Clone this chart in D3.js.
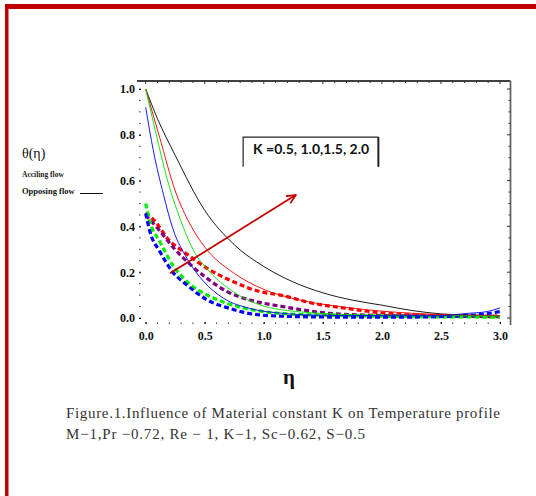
<!DOCTYPE html>
<html>
<head>
<meta charset="utf-8">
<script src="https://cdn.jsdelivr.net/npm/d3@7"></script>
<style>
  body { margin: 0; background: #fff; }
  svg { display: block; }
</style>
</head>
<body>
<svg id="chart" width="536" height="496"></svg>
<script>
// solid lines (assisting flow), K = 0.5, 1.0, 1.5, 2.0
const etaBlack = [0, 0.1, 0.25, 0.5, 0.75, 1, 1.25, 1.5, 1.75, 2, 2.25, 2.5, 2.75, 3];
const solidBlack = [1.0, 0.87, 0.71, 0.47, 0.32, 0.225, 0.157, 0.11, 0.078, 0.056, 0.033, 0.018, 0.012, 0.01];
const etaRed = [0, 0.12, 0.25, 0.375, 0.5, 0.75, 1, 1.25, 1.5, 2, 2.5, 3];
const solidRed = [1.0, 0.785, 0.555, 0.41, 0.31, 0.195, 0.125, 0.085, 0.06, 0.03, 0.015, 0.01];
const etaGreen = [0, 0.09, 0.18, 0.29, 0.4, 0.545, 0.74, 0.97, 1.28, 1.5, 2, 2.5, 3];
const solidGreen = [1.0, 0.8, 0.61, 0.435, 0.3, 0.2, 0.115, 0.057, 0.028, 0.02, 0.012, 0.01, 0.008];
const etaBlue = [0, 0.065, 0.15, 0.23, 0.35, 0.49, 0.66, 0.88, 1.17, 1.5, 2, 2.5, 2.72, 2.89, 3];
const solidBlue = [0.92, 0.73, 0.54, 0.39, 0.26, 0.16, 0.086, 0.042, 0.02, 0.012, 0.01, 0.01, 0.02, 0.028, 0.044];

// dashed lines (opposing flow)
const etaRedD = [0, 0.065, 0.21, 0.32, 0.52, 0.74, 0.97, 1.14, 1.42, 1.7, 1.99, 2.27, 2.55, 3];
const dashRed = [0.46, 0.43, 0.333, 0.29, 0.217, 0.159, 0.115, 0.1, 0.064, 0.042, 0.023, 0.013, 0.009, 0.008];
const etaPurpleD = [0, 0.12, 0.23, 0.375, 0.52, 0.69, 0.88, 1.17, 1.56, 1.85, 2.5, 3];
const dashPurple = [0.45, 0.38, 0.31, 0.235, 0.173, 0.115, 0.079, 0.049, 0.02, 0.013, 0.008, 0.006];
const etaGreenD = [0, 0.036, 0.12, 0.23, 0.35, 0.52, 0.69, 0.91, 1.14, 1.5, 2, 2.5, 3];
const dashGreen = [0.5, 0.42, 0.333, 0.23, 0.159, 0.1, 0.064, 0.035, 0.02, 0.012, 0.008, 0.005, 0.004];
const etaBlueD = [0, 0.036, 0.12, 0.23, 0.35, 0.52, 0.71, 0.97, 1.3, 1.7, 2.2, 2.6, 2.8, 3];
const dashBlue = [0.457, 0.377, 0.29, 0.2, 0.144, 0.079, 0.042, 0.013, 0.006, 0.004, 0.004, 0.008, 0.013, 0.028];

const xTicks = [0, 0.5, 1, 1.5, 2, 2.5, 3];
const yTicks = [0, 0.2, 0.4, 0.6, 0.8, 1.0];
const kLabel = "K =0.5, 1.0,1.5, 2.0";
const caption1 = "Figure.1.Influence of Material constant K on Temperature profile";
const caption2 = "M\u22121,Pr \u22120.72, Re \u2212 1, K\u22121, Sc\u22120.62,  S\u22120.5";

const svg = d3.select("#chart");
const serif = "'Liberation Serif', 'Times New Roman', serif";

// red page border (top and left)
svg.append("rect").attr("x", 5).attr("y", 4).attr("width", 531).attr("height", 5).attr("fill", "#c00000");
svg.append("rect").attr("x", 5).attr("y", 4).attr("width", 3.5).attr("height", 492).attr("fill", "#c00000");

var x = d3.scaleLinear().domain([0, 3]).range([145.7, 500]);
var y = d3.scaleLinear().domain([0, 1]).range([318, 89]);

const fLeft = 139, fRight = 510.5, fTop = 81, fBottom = 324;

// frame: top and right only
svg.append("line").attr("x1", 137).attr("x2", fRight).attr("y1", fTop).attr("y2", fTop)
  .attr("stroke", "#000").attr("stroke-width", 1.3);
svg.append("line").attr("x1", fRight).attr("x2", fRight).attr("y1", fTop).attr("y2", fBottom + 1)
  .attr("stroke", "#666").attr("stroke-width", 1.8);

const minorX = d3.range(0, 31).map(d => d / 10);
const minorY = d3.range(0, 21).map(d => d / 20);

// bottom axis
var gx = svg.append("g").attr("transform", "translate(0," + fBottom + ")")
  .call(d3.axisBottom(x).tickValues(xTicks).tickFormat(d3.format(".1f")).tickSize(-2).tickPadding(7));
gx.select(".domain").remove();
gx.selectAll("text").attr("font-family", serif).attr("font-weight", "bold").attr("font-size", 12).attr("fill", "#111");
svg.append("g").selectAll("line").data(minorX).enter().append("line")
  .attr("x1", d => x(d)).attr("x2", d => x(d)).attr("y1", fBottom).attr("y2", fBottom - 1.5)
  .attr("stroke", "#333");

// left axis
var gy = svg.append("g").attr("transform", "translate(" + fLeft + ",0)")
  .call(d3.axisLeft(y).tickValues(yTicks).tickFormat(d3.format(".1f")).tickSize(-2).tickPadding(4));
gy.select(".domain").remove();
gy.selectAll("text").attr("font-family", serif).attr("font-weight", "bold").attr("font-size", 12).attr("fill", "#111");
svg.append("g").selectAll("line").data(minorY).enter().append("line")
  .attr("x1", fLeft).attr("x2", fLeft + 1.5).attr("y1", d => y(d)).attr("y2", d => y(d))
  .attr("stroke", "#333");

// top & right frame ticks
svg.append("g").selectAll("line").data(minorX).enter().append("line")
  .attr("x1", d => x(d)).attr("x2", d => x(d)).attr("y1", fTop).attr("y2", d => fTop + (Math.round(d * 10) % 5 === 0 ? 3 : 2))
  .attr("stroke", "#333");
svg.append("g").selectAll("line").data(minorY).enter().append("line")
  .attr("x1", fRight).attr("x2", d => fRight - (Math.round(d * 20) % 4 === 0 ? 3.5 : 2)).attr("y1", d => y(d)).attr("y2", d => y(d))
  .attr("stroke", "#333");

// curves
var line = d3.line().x(d => x(d[0])).y(d => y(d[1])).curve(d3.curveMonotoneX);
const zip = (a, b) => a.map((v, i) => [v, b[i]]);

const dashed = [
  [etaRedD, dashRed, "#ff0000"],
  [etaPurpleD, dashPurple, "#800080"],
  [etaGreenD, dashGreen, "#00ee00"],
  [etaBlueD, dashBlue, "#0000ff"]
];
const solid = [
  [etaBlack, solidBlack, "#000000"],
  [etaRed, solidRed, "#ee0000"],
  [etaGreen, solidGreen, "#00dd00"],
  [etaBlue, solidBlue, "#0000ee"]
];

dashed.forEach(function (s) {
  svg.append("path").datum(zip(s[0], s[1])).attr("d", line)
    .attr("fill", "none").attr("stroke", s[2]).attr("stroke-width", 3.2)
    .attr("stroke-dasharray", "5,3");
});
solid.forEach(function (s) {
  svg.append("path").datum(zip(s[0], s[1])).attr("d", line)
    .attr("fill", "none").attr("stroke", s[2]).attr("stroke-width", 0.9);
});

// K box (no bottom edge)
const bx0 = x(0.825), bx1 = x(1.97), by0 = y(0.79), by1 = y(0.66);
svg.append("path").attr("d", "M" + bx0 + "," + by1 + "V" + by0 + "H" + bx1)
  .attr("fill", "none").attr("stroke", "#222").attr("stroke-width", 1.2);
svg.append("line").attr("x1", bx1).attr("x2", bx1).attr("y1", by0).attr("y2", by1)
  .attr("stroke", "#222").attr("stroke-width", 2);
svg.append("text").attr("x", bx0 + 10).attr("y", by0 + 17).text(kLabel)
  .attr("font-family", "Lato, 'Liberation Sans', sans-serif").attr("font-weight", "bold")
  .attr("font-size", 13).attr("fill", "#111").attr("textLength", 116).attr("lengthAdjust", "spacingAndGlyphs");

// arrow
const ax0 = x(0.206), ay0 = y(0.195), ax1 = x(1.27), ay1 = y(0.537);
const ang = Math.atan2(ay1 - ay0, ax1 - ax0);
svg.append("line").attr("x1", ax0).attr("y1", ay0).attr("x2", ax1).attr("y2", ay1)
  .attr("stroke", "#c00000").attr("stroke-width", 1.8);
[0.45, -0.45].forEach(function (da) {
  svg.append("line").attr("x1", ax1).attr("y1", ay1)
    .attr("x2", ax1 - 9 * Math.cos(ang + da)).attr("y2", ay1 - 9 * Math.sin(ang + da))
    .attr("stroke", "#c00000").attr("stroke-width", 1.8).attr("stroke-linecap", "round");
});

// left labels
svg.append("text").attr("x", 22).attr("y", 158).text("\u03b8(\u03b7)")
  .attr("font-family", serif).attr("font-size", 14).attr("fill", "#111");
svg.append("text").attr("x", 22).attr("y", 177).text("Acciling flow")
  .attr("font-family", serif).attr("font-weight", "bold").attr("font-size", 7.5).attr("fill", "#222");
svg.append("text").attr("x", 22).attr("y", 194).text("Opposing flow")
  .attr("font-family", serif).attr("font-weight", "bold").attr("font-size", 8.5).attr("fill", "#111");
svg.append("line").attr("x1", 80).attr("x2", 103).attr("y1", 193.5).attr("y2", 193.5)
  .attr("stroke", "#111").attr("stroke-width", 1);

// axis title
svg.append("text").attr("x", 289).attr("y", 384).attr("text-anchor", "middle").text("\u03b7")
  .attr("font-family", serif).attr("font-weight", "bold").attr("font-size", 21).attr("fill", "#111");

// caption
svg.append("text").attr("x", 66).attr("y", 418).text(caption1)
  .attr("font-family", serif).attr("font-size", 15).attr("fill", "#333")
  .attr("textLength", 434).attr("lengthAdjust", "spacing");
svg.append("text").attr("x", 66).attr("y", 439).text(caption2)
  .attr("font-family", serif).attr("font-size", 15).attr("fill", "#333")
  .attr("textLength", 299).attr("lengthAdjust", "spacing");
</script>
</body>
</html>
